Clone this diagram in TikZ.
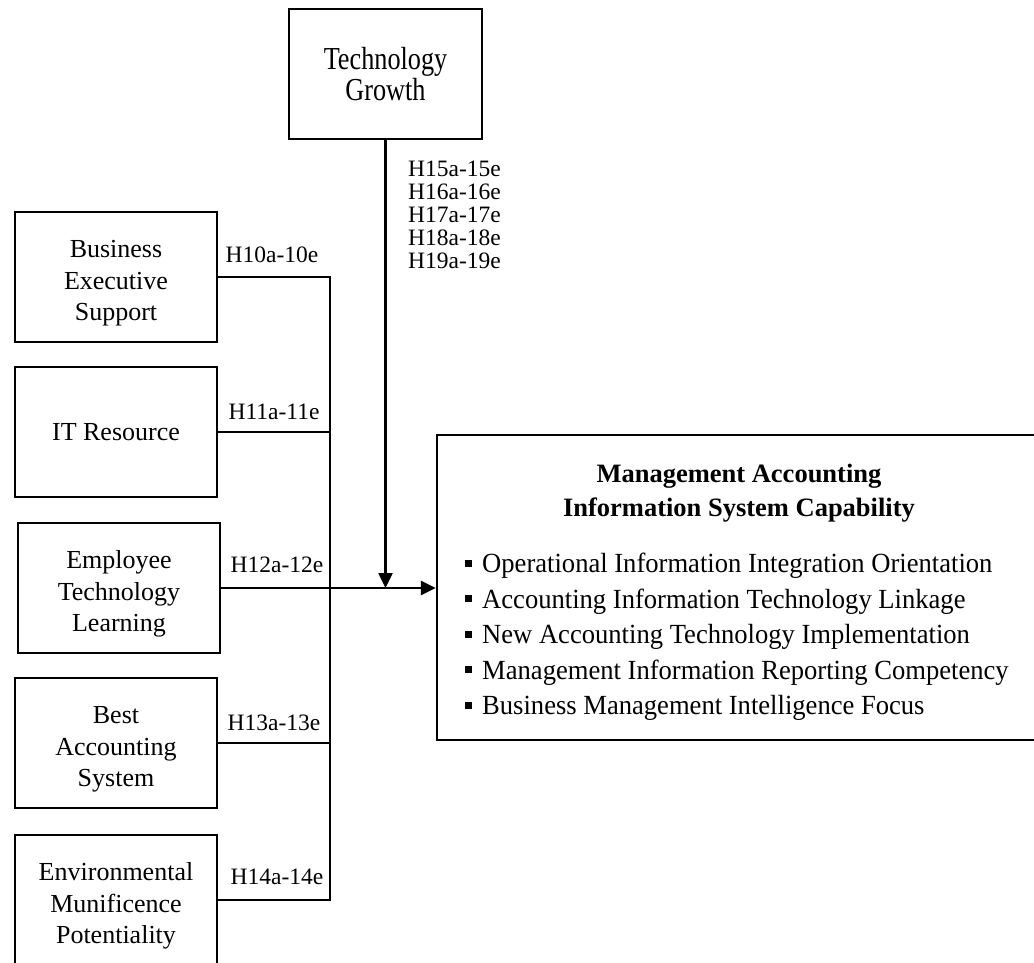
\documentclass[tikz,border=0pt]{standalone}
\usepackage{fontspec}
\setmainfont{Liberation Serif}
\newfontfamily\narrowfont{Liberation Serif}[FakeStretch=0.82]
\newfontfamily\listfont{Liberation Serif}[FakeStretch=0.96]
\usetikzlibrary{arrows.meta}
% small filled square used as list bullet
\newcommand{\sqbullet}{\rule[6pt]{7pt}{7pt}\hspace{10pt}}
% extra head room on the first line of three-line labels
\newcommand{\topstrut}{\rule{0pt}{30pt}}
\tikzset{
  box/.style={draw, line width=2.4pt, minimum width=202pt, minimum height=130pt,
    inner sep=0pt, align=center, font=\fontsize{26}{31.5}\selectfont},
  lbl/.style={inner sep=0pt, font=\fontsize{23.5}{23}\selectfont},
  link/.style={line width=2.5pt},
  arr/.style={link, -{Triangle[length=15pt,width=14pt]}}
}
\begin{document}
\begin{tikzpicture}[x=1pt,y=-1pt]
\useasboundingbox (0,0) rectangle (1034,962);
\clip (0,0) rectangle (1034,962);

% moderator
\node[box, minimum width=193pt, font=\narrowfont\fontsize{32}{31.7}\selectfont]
  (tg) at (385.5,74) {Technology\\Growth};

% antecedents
\node[box] (bes) at (116,277) {\topstrut Business\\Executive\\Support};
\node[box] (itr) at (116,432) {IT Resource};
\node[box] (etl) at (119,588) {\topstrut Employee\\Technology\\Learning};
\node[box] (bas) at (116,743) {\topstrut Best\\Accounting\\System};
\node[box] (emp) at (116,900) {\topstrut Environmental\\Munificence\\Potentiality};

% outcome
\node[draw, line width=2.4pt, minimum width=608pt, minimum height=305pt, inner sep=0pt]
  (mais) at (741,587.5) {};
\node[align=center, inner sep=0pt, font=\bfseries\fontsize{26.5}{34.5}\selectfont]
  (mtitle) at (739,493) {Management Accounting\\Information System Capability};
\node[align=left, anchor=west, inner sep=0pt, font=\listfont\fontsize{27.7}{35.5}\selectfont]
  (mlist) at (465,637) {\sqbullet Operational Information Integration Orientation\\
  \sqbullet Accounting Information Technology Linkage\\
  \sqbullet New Accounting Technology Implementation\\
  \sqbullet Management Information Reporting Competency\\
  \sqbullet Business Management Intelligence Focus};

% connectors
\coordinate (busx) at (330,0);
\draw[link] (bes.east) -- (bes.east -| busx) -- (emp.east -| busx) -- (emp.east);
\draw[link] (itr.east) -- (itr.east -| busx);
\draw[link] (bas.east) -- (bas.east -| busx);
\draw[arr] (etl.east) -- (etl.east -| mais.west);
\draw[arr] (tg.south) -- (tg.south |- etl.east);

% hypothesis labels
\node[lbl] (h10) at (272,255) {H10a-10e};
\node[lbl] (h11) at (274,412) {H11a-11e};
\node[lbl] (h12) at (277,565) {H12a-12e};
\node[lbl] (h13) at (274,723) {H13a-13e};
\node[lbl] (h14) at (277,877) {H14a-14e};
\node[lbl, anchor=west, align=left] (h15) at (408,215)
  {H15a-15e\\H16a-16e\\H17a-17e\\H18a-18e\\H19a-19e};
\end{tikzpicture}
\end{document}
